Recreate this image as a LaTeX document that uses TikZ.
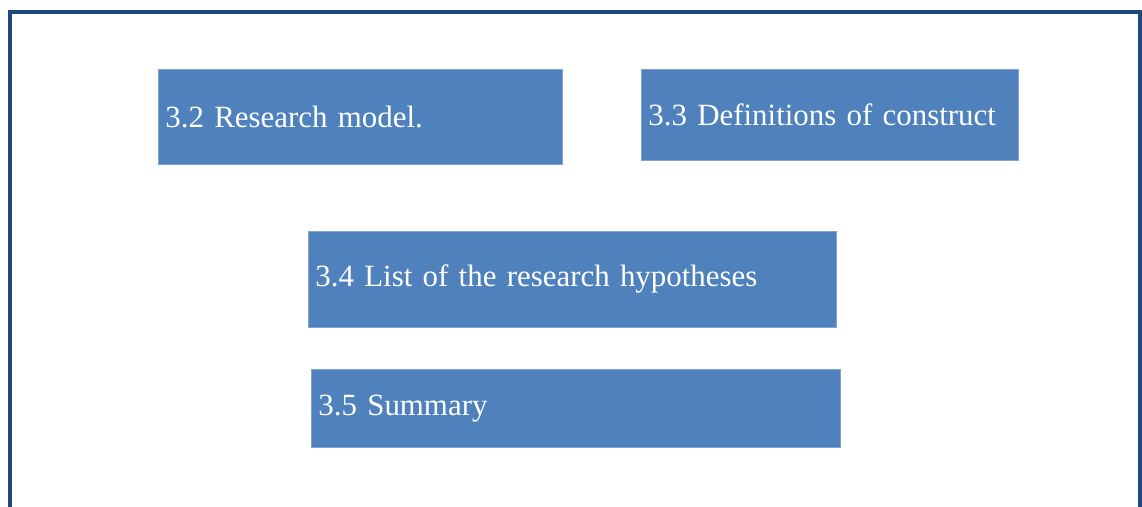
\documentclass[tikz,border=0pt]{standalone}
\usepackage{fontspec}
\setmainfont{Liberation Serif}
\definecolor{framecol}{HTML}{1F497D}
\definecolor{boxfill}{HTML}{4F81BD}
\definecolor{boxedge}{HTML}{7FA3D3}
\begin{document}
\begin{tikzpicture}[x=1pt,y=-1pt,
  secbox/.style={draw=boxedge, line width=0.8pt, fill=boxfill, text=white,
    anchor=north west, inner xsep=7pt, inner ysep=0pt, align=left,
    font=\fontsize{30.9}{36}\selectfont},
]
\useasboundingbox (0,0) rectangle (1142,506);
% outer frame, open at the bottom
\draw[framecol, line width=4pt] (9.5,520) -- (9.5,11.5) -- (1140,11.5) -- (1140,520);
% section boxes
\node[secbox, text width=390pt, minimum height=95pt] (b32) at (158,69) {3.2 Research model.};
\node[secbox, text width=363pt, minimum height=91pt] (b33) at (641,69) {3.3 Definitions of construct};
\node[secbox, text width=514pt, minimum height=96pt] (b34) at (308,231) {\raisebox{-2pt}{3.4 List of the research hypotheses}};
\node[secbox, text width=515pt, minimum height=78pt] (b35) at (311,369) {\raisebox{-3pt}{3.5 Summary}};
\end{tikzpicture}
\end{document}
